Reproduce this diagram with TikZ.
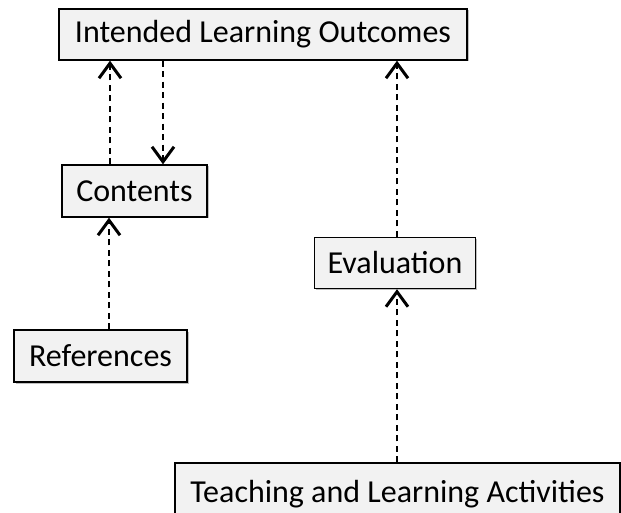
\documentclass[tikz,border=0pt]{standalone}
\usepackage{fontspec}
\setmainfont{Carlito}
\usetikzlibrary{arrows.meta,shadows}
\definecolor{boxfill}{HTML}{F2F2F2}
\tikzset{
  box/.style={draw=black, line width=1.4pt, fill=boxfill, inner sep=0pt,
    font=\fontsize{32}{36}\selectfont,
    drop shadow={shadow xshift=1.5pt, shadow yshift=-1.5pt, opacity=0.25, fill=black}},
  conn/.style={line width=1.4pt, dash pattern=on 6pt off 4.5pt,
    -{Straight Barb[length=15pt,width=22pt,line width=3pt]}}
}
\begin{document}
\begin{tikzpicture}[x=1pt,y=-1pt]
\useasboundingbox (0,0) rectangle (621,513);
\node[box, minimum width=408pt, minimum height=51pt] (ilo) at (263,34.5) {Intended Learning Outcomes};
\node[box, minimum width=145pt, minimum height=52pt] (cont) at (134.5,191) {Contents};
\node[box, minimum width=173pt, minimum height=52pt] (ref) at (100.5,356) {References};
\node[box, minimum width=161pt, minimum height=51pt] (eval) at (395,263) {Evaluation};
\node[box, minimum width=445pt, minimum height=62pt] (tla) at (397.5,494) {Teaching and Learning Activities};
\draw[conn] (cont.north -| 110,0) -- (ilo.south -| 110,0);
\draw[conn] (ilo.south -| 163,0) -- (cont.north -| 163,0);
\draw[conn] (ref.north -| 109,0) -- (cont.south -| 109,0);
\draw[conn] (eval.north -| 397,0) -- (ilo.south -| 397,0);
\draw[conn] (tla.north -| 397,0) -- (eval.south -| 397,0);
\end{tikzpicture}
\end{document}
